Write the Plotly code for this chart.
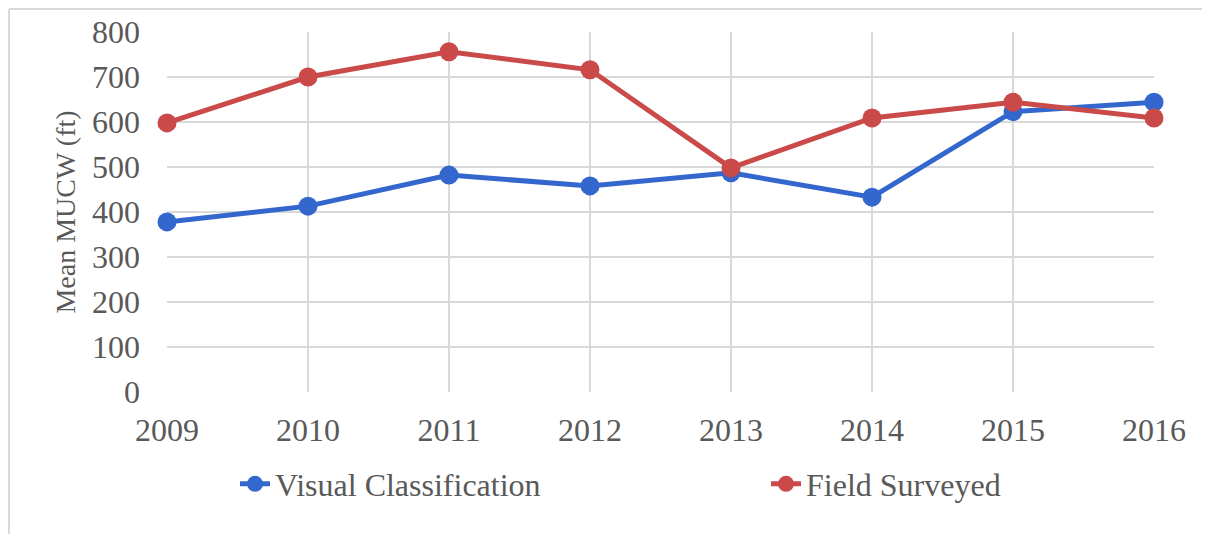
import plotly.graph_objects as go

years = [2009, 2010, 2011, 2012, 2013, 2014, 2015, 2016]
visual_classification = [378, 413, 482, 458, 487, 433, 623, 644]
field_surveyed = [598, 700, 756, 716, 498, 609, 644, 609]
y_ticks = [0, 100, 200, 300, 400, 500, 600, 700, 800]

BLUE = "#3467CD"
RED = "#CA4A49"
GRID = "#D9D9D9"
TEXT = "#595959"
FONT = "Liberation Serif"

# page body has an 8px margin; work in reference pixel coords, shifted by OFF
OFF = 8
W, H = 1210 - 2 * OFF, 542 - 2 * OFF
L = 167 - OFF
T = 32 - OFF
R = W - (1154 - OFF)
B = H - (392 - OFF)
PW, PH = W - L - R, H - T - B

def px_x(px):
    return (px - OFF - L) / PW

def px_y(py):
    return (H - B - (py - OFF)) / PH

fig = go.Figure()
fig.add_trace(go.Scatter(
    x=years, y=visual_classification, name="Visual Classification",
    mode="lines+markers", line=dict(color=BLUE, width=5),
    marker=dict(color=BLUE, size=19), cliponaxis=False, legend="legend",
    showlegend=True))
fig.add_trace(go.Scatter(
    x=years, y=field_surveyed, name="Field Surveyed",
    mode="lines+markers", line=dict(color=RED, width=5),
    marker=dict(color=RED, size=19), cliponaxis=False, legend="legend2",
    showlegend=True))

# outer chart border: only top and left edges are visible in the reference
border_left = px_x(OFF + 1)
border_top = px_y(OFF + 1)
fig_right = px_x(OFF + W)
fig_bottom = px_y(OFF + H)

fig.update_layout(
    width=W, height=H,
    margin=dict(l=L, r=R, t=T, b=B, autoexpand=False),
    paper_bgcolor="white", plot_bgcolor="white",
    showlegend=True,
    font=dict(family=FONT, color=TEXT, size=31),
    legend=dict(x=px_x(235), y=px_y(484), xanchor="left", yanchor="middle",
                font=dict(family=FONT, size=32, color=TEXT), bgcolor="rgba(0,0,0,0)"),
    legend2=dict(x=px_x(766), y=px_y(484), xanchor="left", yanchor="middle",
                 font=dict(family=FONT, size=32, color=TEXT), bgcolor="rgba(0,0,0,0)"),
    xaxis=dict(range=[2009, 2016], tickvals=years, ticktext=[str(y) for y in years],
               showgrid=True, gridcolor=GRID, gridwidth=2, zeroline=False,
               showline=False, ticks="", ticklabelstandoff=16,
               tickfont=dict(family=FONT, size=32, color=TEXT)),
    yaxis=dict(range=[0, 800], tickvals=y_ticks, showgrid=True, gridcolor=GRID,
               gridwidth=2, zeroline=False, showline=False, ticks="",
               ticklabelstandoff=26,
               tickfont=dict(family=FONT, size=32, color=TEXT),
               title=dict(text="Mean MUCW (ft)", standoff=8,
                          font=dict(family=FONT, size=28, color=TEXT))),
    shapes=[
        dict(type="line", xref="paper", yref="paper",
             x0=border_left, x1=fig_right, y0=border_top, y1=border_top,
             line=dict(color=GRID, width=2), layer="below"),
        dict(type="line", xref="paper", yref="paper",
             x0=border_left, x1=border_left, y0=fig_bottom, y1=border_top,
             line=dict(color=GRID, width=2), layer="below"),
    ],
)

fig.write_html("out.html")
